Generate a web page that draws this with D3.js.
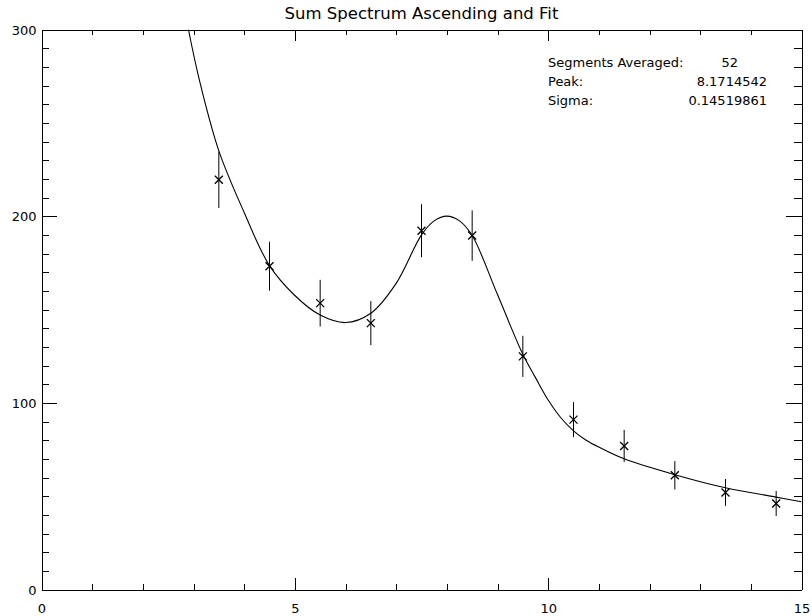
<!DOCTYPE html>
<html>
<head>
<meta charset="utf-8">
<script src="https://cdn.jsdelivr.net/npm/d3@7"></script>
<style>
  body { margin: 0; background: #fff; }
  text { font-family: "DejaVu Sans", sans-serif; fill: #000; }
</style>
</head>
<body>
<div id="chart"></div>
<script>
// measured points (bin centres), counts and error bars
const pointX = [3.5, 4.5, 5.5, 6.5, 7.5, 8.5, 9.5, 10.5, 11.5, 12.5, 13.5, 14.5];
const pointY = [219.5, 173.2, 153.4, 142.7, 192.2, 189.6, 124.9, 91, 76.9, 61.2, 52, 46.1];
const pointErr = [15.1, 13.1, 12.5, 11.8, 14.2, 13.5, 11, 9.4, 8.6, 7.6, 7.2, 6.7];

// fitted curve
const fitX = [2.9, 3.12, 3.5, 4.0, 4.5, 5.0, 5.5, 6.0, 6.5, 7.0, 7.5, 7.75, 8.0, 8.25, 8.5, 9.0, 9.5, 9.75, 10.0, 10.25, 10.5, 10.75, 11.0, 11.5, 12.5, 13.5, 14.5, 15.0];
const fitY = [300, 272.5, 235, 202, 173.5, 157.5, 147, 143, 148, 164, 190, 197.5, 200, 197.5, 189.6, 158, 126, 113.5, 101.5, 92, 85, 80, 76.3, 70, 61.5, 54.5, 49.5, 47];

const xMajor = [0, 5, 10, 15];
const xMinor = d3.range(0, 15.01, 1);
const yMajor = [0, 100, 200, 300];
const yMinor = d3.range(0, 300.01, 10);

const infoLabels = ["Segments Averaged:", "Peak:", "Sigma:"];
const infoValues = ["52", "8.1714542", "0.14519861"];

const width = 812;
const height = 616;
const margin = { top: 29.5, right: 10.5, bottom: 26.5, left: 41.5 };
const w = width - margin.left - margin.right;
const h = height - margin.top - margin.bottom;

const svg = d3
  .select("#chart")
  .append("svg")
  .attr("width", width)
  .attr("height", height);

svg
  .append("text")
  .attr("x", margin.left + w / 2)
  .attr("y", 19)
  .attr("text-anchor", "middle")
  .style("font-size", "16.5px")
  .text("Sum Spectrum Ascending and Fit");

const g = svg.append("g").attr("transform", `translate(${margin.left}, ${margin.top})`);

const x = d3.scaleLinear().domain([0, 15]).range([0, w]);
const y = d3.scaleLinear().domain([0, 300]).range([h, 0]);

// IDL style ticks: length is 2% of the plot size, minor ticks half
const xTickLen = 0.02 * h;
const yTickLen = 0.02 * w;

const xMinorOnly = xMinor.filter((v) => !xMajor.includes(v));
const yMinorOnly = yMinor.filter((v) => !yMajor.includes(v));

const axes = [
  { axis: d3.axisBottom(x).tickValues(xMajor).tickSize(-xTickLen), t: `translate(0, ${h})`, labels: "x" },
  { axis: d3.axisBottom(x).tickValues(xMinorOnly).tickSize(-xTickLen / 2), t: `translate(0, ${h})` },
  { axis: d3.axisTop(x).tickValues(xMajor).tickSize(-xTickLen), t: "translate(0, 0)" },
  { axis: d3.axisTop(x).tickValues(xMinorOnly).tickSize(-xTickLen / 2), t: "translate(0, 0)" },
  { axis: d3.axisLeft(y).tickValues(yMajor).tickSize(-yTickLen), t: "translate(0, 0)", labels: "y" },
  { axis: d3.axisLeft(y).tickValues(yMinorOnly).tickSize(-yTickLen / 2), t: "translate(0, 0)" },
  { axis: d3.axisRight(y).tickValues(yMajor).tickSize(-yTickLen), t: `translate(${w}, 0)` },
  { axis: d3.axisRight(y).tickValues(yMinorOnly).tickSize(-yTickLen / 2), t: `translate(${w}, 0)` }
];

axes.forEach((a) => {
  const ag = g
    .append("g")
    .attr("transform", a.t)
    .call(a.axis.tickSizeOuter(0));
  ag.select(".domain").attr("stroke", "#000").attr("shape-rendering", "crispEdges");
  ag.selectAll(".tick line").attr("stroke", "#000").attr("shape-rendering", "crispEdges");
  const labels = ag.selectAll(".tick text");
  if (!a.labels) {
    labels.remove();
    return;
  }
  labels.style("font-size", "13px").attr("fill", "#000").attr("font-family", null);
  // ticks point inward, so place the labels outside the frame
  if (a.labels === "x") {
    labels.attr("y", 14).attr("dy", "0.71em");
  } else {
    labels.attr("x", -5).attr("dy", "0.36em");
  }
});

svg
  .append("clipPath")
  .attr("id", "plot-clip")
  .append("rect")
  .attr("width", w)
  .attr("height", h);

const plot = g.append("g").attr("clip-path", "url(#plot-clip)");

const fitData = fitX.map((v, i) => [v, fitY[i]]);
plot
  .append("path")
  .datum(fitData)
  .attr("fill", "none")
  .attr("stroke", "#000")
  .attr("stroke-width", 1.1)
  .attr("d", d3.line().x((d) => x(d[0])).y((d) => y(d[1])).curve(d3.curveCatmullRom.alpha(0.5)));

const points = pointX.map((v, i) => ({ x: v, y: pointY[i], err: pointErr[i] }));

plot
  .selectAll(".err")
  .data(points)
  .join("line")
  .attr("class", "err")
  .attr("x1", (d) => x(d.x))
  .attr("x2", (d) => x(d.x))
  .attr("y1", (d) => y(d.y - d.err))
  .attr("y2", (d) => y(d.y + d.err))
  .attr("stroke", "#000")
  .attr("stroke-width", 1);

const s = 4;
plot
  .selectAll(".mark")
  .data(points)
  .join("path")
  .attr("class", "mark")
  .attr("d", (d) => {
    const cx = x(d.x);
    const cy = y(d.y);
    return `M${cx - s},${cy - s}L${cx + s},${cy + s}M${cx - s},${cy + s}L${cx + s},${cy - s}`;
  })
  .attr("stroke", "#000")
  .attr("stroke-width", 1.3)
  .attr("fill", "none");

const info = svg.append("g").style("font-size", "13px");
infoLabels.forEach((label, i) => {
  info.append("text").attr("x", 548).attr("y", 67 + i * 19).text(label);
});
infoValues.forEach((val, i) => {
  info
    .append("text")
    .attr("x", i === 0 ? 738 : 767)
    .attr("y", 67 + i * 19)
    .attr("text-anchor", "end")
    .text(val);
});
</script>
</body>
</html>
